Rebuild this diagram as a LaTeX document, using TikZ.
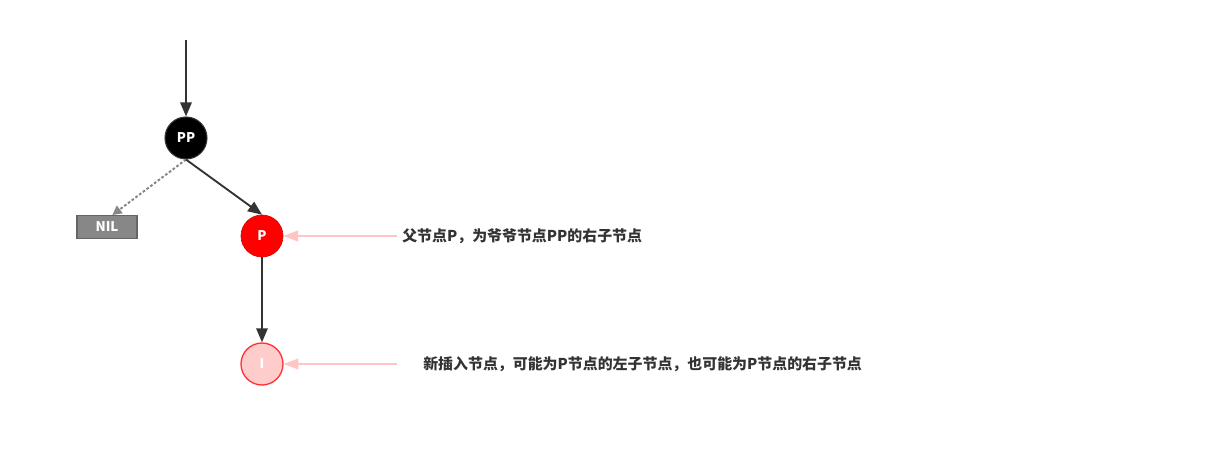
\documentclass[tikz,border=0pt]{standalone}
\usepackage{fontspec}
\setmainfont{Noto Sans CJK SC}
\usetikzlibrary{arrows.meta}
\definecolor{linegray}{HTML}{333333}
\definecolor{nilgray}{HTML}{878787}
\definecolor{nodered}{HTML}{FF0000}
\definecolor{newpink}{HTML}{FFCCCC}
\definecolor{newborder}{HTML}{FF3333}
\definecolor{notepink}{HTML}{FFC4C4}

\begin{document}
\begin{tikzpicture}[x=0.75pt, y=-0.75pt, every node/.style={font=\bfseries}]
\tikzset{
  treenode/.style={circle, text=white, minimum size=31.5pt, inner sep=0pt, font=\bfseries\fontsize{10}{12}\selectfont},
  blacknode/.style={treenode, draw=linegray, line width=0.8pt, fill=black},
  rednode/.style={treenode, draw=nodered!85!black, line width=0.5pt, fill=nodered},
  newnode/.style={treenode, draw=newborder, line width=1pt, fill=newpink},
  nilbox/.style={rectangle, draw=nilgray!75!black, line width=1pt, fill=nilgray, text=white, minimum width=45pt, minimum height=17pt, inner sep=0pt, font=\bfseries\fontsize{10}{12}\selectfont},
  link/.style={draw=linegray, line width=1.4pt, -{Triangle[length=10.5pt,width=8.5pt]}},
  nillink/.style={draw=nilgray, line width=1.5pt, dash pattern=on 2pt off 1.5pt, -{Triangle[length=7pt,width=7pt]}},
  notelink/.style={draw=notepink, line width=1.2pt, -{Triangle[length=11pt,width=8pt]}},
  note/.style={anchor=west, text=linegray, font=\bfseries\fontsize{11.2}{13}\selectfont, inner sep=0pt}
}
\useasboundingbox (0,0) rectangle (1208,472);
% tree
\coordinate (top) at (186,40);
\node[blacknode] (pp) at (186,138) {PP};
\node[nilbox] (nil) at (107,227) {NIL};
\node[rednode] (p) at (262,236) {P};
\node[newnode] (i) at (262,364) {I};
% edges
\draw[link] (top) -- (pp);
\draw[nillink] (pp.south) -- ([xshift=4pt]nil.north);
\draw[link] (pp.south) -- (p.north);
\draw[link] (p) -- (i);
% notes
\node[note] (notep) at (402,236) {父节点P，为爷爷节点PP的右子节点};
\node[note] (notei) at (423,364) {新插入节点，可能为P节点的左子节点，也可能为P节点的右子节点};
\coordinate (ep) at (397,236);
\coordinate (ei) at (397,364);
\draw[notelink] (ep) -- (p);
\draw[notelink] (ei) -- (i);
\end{tikzpicture}
\end{document}
